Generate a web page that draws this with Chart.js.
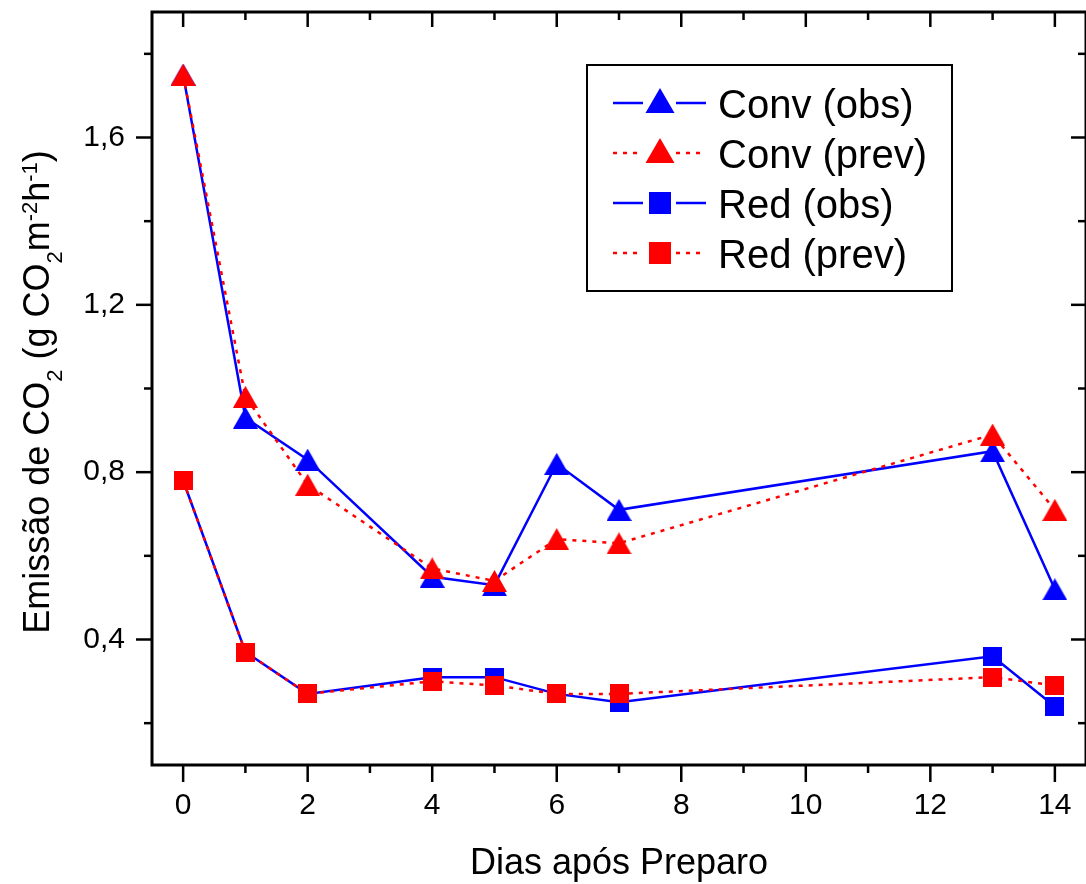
<!DOCTYPE html>
<html>
<head>
<meta charset="utf-8">
<script src="https://cdn.jsdelivr.net/npm/chart.js@4.4.1/dist/chart.umd.min.js"></script>
<style>
html,body{margin:0;padding:0;background:#fff;}
#wrap{width:1086px;height:884px;position:relative;}
</style>
</head>
<body>
<div id="wrap"><canvas id="c"></canvas></div>
<script>
// ---- data ----
const days = [0, 1, 2, 4, 5, 6, 7, 13, 14];
const convObs  = [1.75, 0.93, 0.83, 0.55, 0.53, 0.82, 0.71, 0.85, 0.52];
const convPrev = [1.75, 0.98, 0.77, 0.57, 0.54, 0.64, 0.63, 0.89, 0.71];
const redObs   = [0.78, 0.37, 0.27, 0.31, 0.31, 0.27, 0.25, 0.36, 0.24];
const redPrev  = [0.78, 0.37, 0.27, 0.30, 0.29, 0.27, 0.27, 0.31, 0.29];
const seriesLabels = ['Conv (obs)', 'Conv (prev)', 'Red (obs)', 'Red (prev)'];
const xMajorTicks = [0, 2, 4, 6, 8, 10, 12, 14];
const xMinorTicks = [1, 3, 5, 7, 9, 11, 13];
const yMajorTicks = [0.4, 0.8, 1.2, 1.6];
const yMinorTicks = [0.2, 0.6, 1.0, 1.4, 1.8];
const xTitle = 'Dias após Preparo';
// [text, 0 normal | 1 subscript | -1 superscript]
const yTitleParts = [['Emissão de CO',0],['2',1],[' (g CO',0],['2',1],['m',0],['-2',-1],['h',0],['-1',-1],[')',0]];

const FONT = '"Liberation Sans", Arial, Helvetica, sans-serif';
const BLUE = '#0000ff', RED = '#ff0000';

function makeMarker(shape, color, w, h) {
  const c = document.createElement('canvas');
  c.width = w; c.height = h;
  const g = c.getContext('2d');
  g.fillStyle = color;
  if (shape === 'tri') {
    g.beginPath(); g.moveTo(0, h); g.lineTo(w / 2, 0); g.lineTo(w, h); g.closePath(); g.fill();
  } else {
    g.fillRect(0, 0, w, h);
  }
  return c;
}

function makeSet(label, values, color, dashed, shape, order) {
  return {
    label: label,
    data: days.map((d, i) => ({ x: d, y: values[i] })),
    borderColor: color,
    backgroundColor: color,
    borderWidth: 2.5,
    borderDash: dashed ? [4, 6] : [],
    tension: 0,
    fill: false,
    pointStyle: shape === 'tri' ? makeMarker('tri', color, 25, 22) : makeMarker('sq', color, 19, 19),
    pointRadius: 12,
    pointHoverRadius: 12,
    order: order,
    legendShape: shape,
    legendDashed: dashed
  };
}

const datasets = [
  makeSet(seriesLabels[0], convObs, BLUE, false, 'tri', 4),
  makeSet(seriesLabels[1], convPrev, RED, true, 'tri', 3),
  makeSet(seriesLabels[2], redObs, BLUE, false, 'sq', 2),
  makeSet(seriesLabels[3], redPrev, RED, true, 'sq', 1)
];

const fmtY = v => v.toFixed(1).replace('.', ',');

const decorPlugin = {
  id: 'decor',
  afterDraw(chart) {
    const { ctx, chartArea: a, scales: { x, y } } = chart;
    ctx.save();
    // frame
    ctx.strokeStyle = '#000';
    ctx.lineWidth = 3;
    ctx.strokeRect(a.left, a.top, a.right - a.left, a.bottom - a.top);
    // ticks
    ctx.lineWidth = 2.5;
    const seg = (x1, y1, x2, y2) => { ctx.beginPath(); ctx.moveTo(x1, y1); ctx.lineTo(x2, y2); ctx.stroke(); };
    xMajorTicks.forEach(v => { const p = x.getPixelForValue(v); seg(p, a.bottom, p, a.bottom + 17); seg(p, a.top, p, a.top + 15); });
    xMinorTicks.forEach(v => { const p = x.getPixelForValue(v); seg(p, a.bottom, p, a.bottom + 8); seg(p, a.top, p, a.top + 8); });
    yMajorTicks.forEach(v => { const p = y.getPixelForValue(v); seg(a.left - 16, p, a.left, p); seg(a.right - 15, p, a.right, p); });
    yMinorTicks.forEach(v => { const p = y.getPixelForValue(v); seg(a.left - 8, p, a.left, p); seg(a.right - 8, p, a.right, p); });

    // y title with sub/superscripts
    const big = '36px ' + FONT, small = '22px ' + FONT;
    let total = 0;
    yTitleParts.forEach(([t, m]) => { ctx.font = m ? small : big; total += ctx.measureText(t).width; });
    ctx.translate(49, 392);
    ctx.rotate(-Math.PI / 2);
    ctx.fillStyle = '#000';
    ctx.textBaseline = 'alphabetic';
    ctx.textAlign = 'left';
    let cx = -total / 2;
    yTitleParts.forEach(([t, m]) => {
      ctx.font = m ? small : big;
      const dy = m === 1 ? 13 : (m === -1 ? -12 : 0);
      ctx.fillText(t, cx, dy);
      cx += ctx.measureText(t).width;
    });
    ctx.setTransform(1, 0, 0, 1, 0, 0);

    // legend
    const L = { left: 587, top: 65, right: 952, bottom: 291 };
    ctx.fillStyle = '#fff';
    ctx.fillRect(L.left, L.top, L.right - L.left, L.bottom - L.top);
    ctx.strokeStyle = '#000';
    ctx.lineWidth = 2;
    ctx.strokeRect(L.left, L.top, L.right - L.left, L.bottom - L.top);
    chart.data.datasets.forEach((ds, i) => {
      const ry = 103 + i * 50;
      ctx.strokeStyle = ds.borderColor;
      ctx.lineWidth = 2.5;
      ctx.setLineDash(ds.legendDashed ? [4, 6] : []);
      seg(613, ry, 643, ry);
      seg(676, ry, 706, ry);
      ctx.setLineDash([]);
      ctx.fillStyle = ds.borderColor;
      if (ds.legendShape === 'tri') {
        ctx.beginPath();
        ctx.moveTo(645.5, ry + 10); ctx.lineTo(660, ry - 15); ctx.lineTo(674.5, ry + 10);
        ctx.closePath(); ctx.fill();
      } else {
        ctx.fillRect(649, ry - 11, 22, 22);
      }
      ctx.fillStyle = '#000';
      ctx.font = '40px ' + FONT;
      ctx.textAlign = 'left';
      ctx.textBaseline = 'alphabetic';
      ctx.fillText(ds.label, 718, ry + 15);
    });
    ctx.restore();
  }
};

new Chart(document.getElementById('c'), {
  type: 'line',
  data: { datasets: datasets },
  options: {
    responsive: true,
    maintainAspectRatio: false,
    animation: false,
    layout: { autoPadding: false, padding: { left: 0, top: 12, right: -3, bottom: 0 } },
    plugins: { legend: { display: false }, tooltip: { enabled: false } },
    scales: {
      x: {
        type: 'linear',
        min: -0.5, max: 14.5,
        grid: { display: false, drawTicks: false },
        border: { display: false },
        afterBuildTicks: s => { s.ticks = xMajorTicks.map(v => ({ value: v })); },
        afterFit: s => { s.height = 119; s.paddingLeft = 0; s.paddingRight = 0; s.paddingTop = 0; s.paddingBottom = 0; },
        ticks: { padding: 23, color: '#000', font: { size: 30, family: FONT }, maxRotation: 0, autoSkip: false, callback: v => String(v) },
        title: { display: true, text: xTitle, color: '#000', font: { size: 36, family: FONT, lineHeight: 1 }, padding: { top: 0, bottom: 1.5 } }
      },
      y: {
        type: 'linear',
        min: 0.1, max: 1.9,
        grid: { display: false, drawTicks: false },
        border: { display: false },
        afterBuildTicks: s => { s.ticks = yMajorTicks.map(v => ({ value: v })); },
        afterFit: s => { s.width = 152; s.paddingLeft = 0; s.paddingRight = 0; s.paddingTop = 0; s.paddingBottom = 0; },
        ticks: { padding: 27, color: '#000', font: { size: 30, family: FONT }, autoSkip: false, callback: v => fmtY(v) }
      }
    }
  },
  plugins: [decorPlugin]
});
</script>
</body>
</html>
